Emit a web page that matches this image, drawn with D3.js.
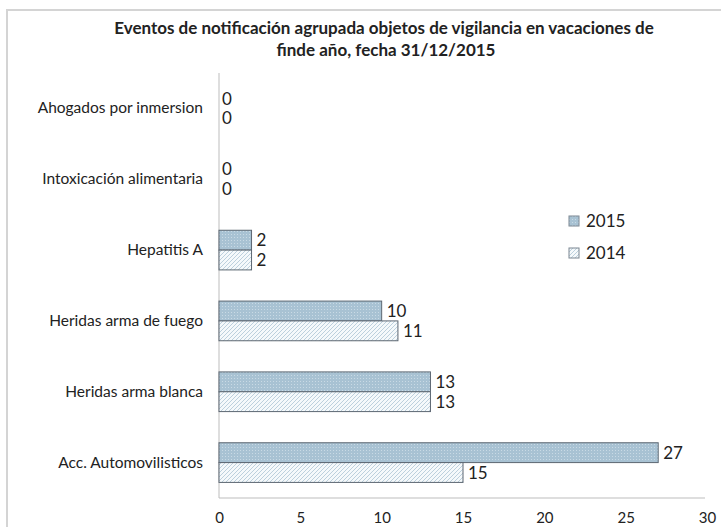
<!DOCTYPE html>
<html lang="es">
<head>
<meta charset="utf-8">
<title>Eventos de notificación</title>
<script src="https://cdn.jsdelivr.net/npm/d3@7"></script>
<style>
  body { margin: 0; background: #fff; }
  svg text { font-family: Lato, "Open Sans", sans-serif; fill: #222; }
</style>
</head>
<body>
<div id="chart"></div>
<script>
// data
var categories = ["Ahogados por inmersion", "Intoxicación alimentaria", "Hepatitis A",
                  "Heridas arma de fuego", "Heridas arma blanca", "Acc. Automovilisticos"];
var years = ["2015", "2014"];
var values2015 = [0, 0, 2, 10, 13, 27];
var values2014 = [0, 0, 2, 11, 13, 15];
var xTicks = [0, 5, 10, 15, 20, 25, 30];

var w = 721, h = 527;
var mLeft = 219, mRight = 707, mTop = 73, mBottom = 498;

var svg = d3.select("#chart").append("svg")
  .attr("width", w).attr("height", h);

var defs = svg.append("defs");
// dotted fill for 2015
var p1 = defs.append("pattern").attr("id", "dots")
  .attr("patternUnits", "userSpaceOnUse").attr("width", 3).attr("height", 3);
p1.append("rect").attr("width", 3).attr("height", 3).attr("fill", "#a8c2d3");
p1.append("rect").attr("width", 1).attr("height", 1).attr("fill", "#c9dae5");
// hatched fill for 2014
var p2 = defs.append("pattern").attr("id", "hatch")
  .attr("patternUnits", "userSpaceOnUse").attr("width", 4).attr("height", 4);
p2.append("rect").attr("width", 4).attr("height", 4).attr("fill", "#f5f9fb");
p2.append("path").attr("d", "M-1,5 L5,-1 M-1,1 L1,-1 M3,5 L5,3")
  .attr("stroke", "#bcd0dd").attr("stroke-width", 1);

// outer frame
svg.append("rect")
  .attr("x", 7).attr("y", 10).attr("width", 730).attr("height", 530)
  .attr("fill", "none").attr("stroke", "#d4d4d4").attr("stroke-width", 2);

// title
svg.append("text").attr("x", 384).attr("y", 34)
  .attr("text-anchor", "middle").attr("font-size", 17).attr("font-weight", "bold")
  .text("Eventos de notificación agrupada objetos de vigilancia en vacaciones de");
svg.append("text").attr("x", 386).attr("y", 56)
  .attr("text-anchor", "middle").attr("font-size", 17).attr("font-weight", "bold")
  .text("finde año,  fecha 31/12/2015");

var x = d3.scaleLinear().domain([0, 30]).range([mLeft, mRight]);
var y = d3.scaleBand().domain(categories).range([mTop, mBottom]).paddingInner(0.44).paddingOuter(0.22);
var ySub = d3.scaleBand().domain(years).range([0, y.bandwidth()]);

// axes lines
svg.append("line").attr("x1", mLeft).attr("x2", mLeft).attr("y1", mTop).attr("y2", mBottom)
  .attr("stroke", "#bdbdbd");
svg.append("line").attr("x1", mLeft).attr("x2", mRight - 2).attr("y1", mBottom).attr("y2", mBottom)
  .attr("stroke", "#bdbdbd");

// x tick labels
var xAxis = d3.axisBottom(x).tickValues(xTicks).tickSize(0).tickPadding(14);
var gx = svg.append("g").attr("transform", "translate(0," + mBottom + ")").call(xAxis);
gx.select(".domain").remove();
gx.selectAll("text").attr("font-size", 15).style("font-family", "Lato, sans-serif").attr("fill", "#222");

// category labels
var yAxis = d3.axisLeft(y).tickSize(0).tickPadding(16);
var gy = svg.append("g").attr("transform", "translate(" + mLeft + ",0)").call(yAxis);
gy.select(".domain").remove();
gy.selectAll("text").attr("font-size", 15.5).style("font-family", "Lato, sans-serif").attr("fill", "#222");

var rows = categories.map(function(c, i) {
  return [{cat: c, year: "2015", v: values2015[i]}, {cat: c, year: "2014", v: values2014[i]}];
});
var flat = [].concat.apply([], rows);

svg.selectAll("rect.bar").data(flat).enter().append("rect")
  .attr("class", "bar")
  .attr("x", x(0))
  .attr("y", function(d) { return y(d.cat) + ySub(d.year); })
  .attr("width", function(d) { return x(d.v) - x(0); })
  .attr("height", ySub.bandwidth())
  .attr("fill", function(d) { return d.year === "2015" ? "url(#dots)" : "url(#hatch)"; })
  .attr("stroke", function(d) { return d.v > 0 ? "#5c6772" : "none"; })
  .attr("stroke-width", 1);

svg.selectAll("text.val").data(flat).enter().append("text")
  .attr("class", "val")
  .attr("x", function(d) { return x(d.v) + (d.v > 0 ? 5 : 3); })
  .attr("y", function(d) { return y(d.cat) + ySub(d.year) + ySub.bandwidth() / 2; })
  .attr("dy", "0.36em")
  .attr("font-size", 17)
  .text(function(d) { return d.v; });

// legend
var lg = svg.append("g").attr("transform", "translate(569,216)");
years.forEach(function(yr, i) {
  lg.append("rect").attr("x", 0).attr("y", i * 32).attr("width", 10).attr("height", 10)
    .attr("fill", yr === "2015" ? "url(#dots)" : "url(#hatch)")
    .attr("stroke", "#7a8691");
  lg.append("text").attr("x", 17).attr("y", i * 32 + 5).attr("dy", "0.36em")
    .attr("font-size", 17).text(yr);
});
</script>
</body>
</html>
